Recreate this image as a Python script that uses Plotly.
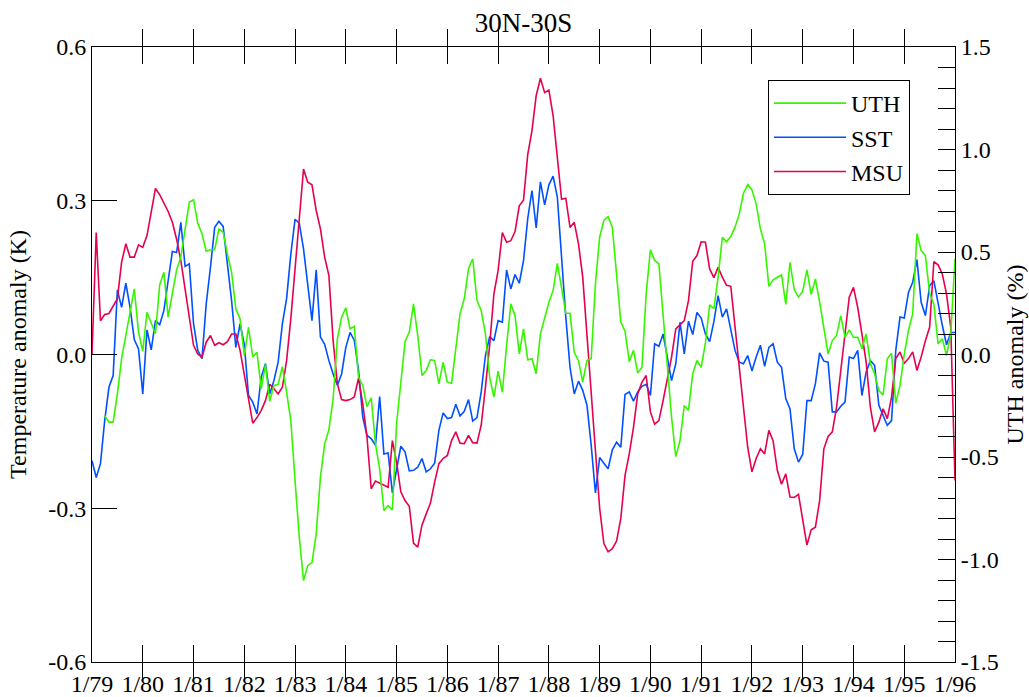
import plotly.graph_objects as go

# Monthly index 0 = Jan 1979 ... 204 = Jan 1996
months = list(range(205))

msu = [0.0, 0.238, 0.066, 0.078, 0.08, 0.095, 0.109, 0.18, 0.216, 0.19,
       0.19, 0.214, 0.209, 0.232, 0.275, 0.324, 0.312, 0.296, 0.279, 0.258,
       0.225, 0.183, 0.125, 0.066, 0.018, 0.001, -0.005, 0.024, 0.037, 0.018,
       0.023, 0.019, 0.025, 0.04, 0.04, 0.008, -0.038, -0.083, -0.134, -0.123,
       -0.109, -0.09, -0.058, -0.067, -0.077, -0.064, -0.012, 0.07, 0.17, 0.27,
       0.362, 0.336, 0.331, 0.281, 0.245, 0.19, 0.154, 0.027, -0.057, -0.088,
       -0.09, -0.088, -0.083, -0.046, -0.096, -0.161, -0.262, -0.247, -0.251, -0.255,
       -0.259, -0.168, -0.21, -0.268, -0.285, -0.296, -0.368, -0.376, -0.333, -0.311,
       -0.29, -0.249, -0.213, -0.203, -0.197, -0.168, -0.151, -0.173, -0.174, -0.158,
       -0.172, -0.173, -0.138, -0.064, 0.018, 0.118, 0.164, 0.238, 0.219, 0.222,
       0.24, 0.29, 0.301, 0.39, 0.437, 0.505, 0.539, 0.511, 0.516, 0.466,
       0.378, 0.303, 0.305, 0.248, 0.258, 0.216, 0.151, 0.04, -0.08, -0.2,
       -0.3, -0.369, -0.385, -0.379, -0.364, -0.32, -0.236, -0.194, -0.142, -0.077,
       -0.054, -0.041, -0.112, -0.136, -0.129, -0.09, -0.051, -0.005, 0.05, 0.058,
       0.066, 0.105, 0.182, 0.193, 0.22, 0.219, 0.167, 0.15, 0.17, 0.151,
       0.135, 0.133, 0.05, -0.02, -0.103, -0.181, -0.229, -0.203, -0.184, -0.194,
       -0.148, -0.168, -0.226, -0.253, -0.233, -0.278, -0.279, -0.273, -0.324, -0.372,
       -0.342, -0.337, -0.285, -0.184, -0.16, -0.151, -0.103, -0.034, 0.04, 0.112,
       0.131, 0.092, 0.04, -0.015, -0.103, -0.151, -0.132, -0.106, -0.125, -0.083,
       -0.008, 0.005, -0.017, -0.008, 0.005, -0.031, -0.005, 0.027, 0.053, 0.181,
       0.175, 0.157, 0.118, 0.053, -0.246]

sst = [-0.207, -0.24, -0.213, -0.129, -0.064, -0.041, 0.126, 0.092, 0.139, 0.092,
       0.029, 0.011, -0.077, 0.048, 0.009, 0.066, 0.058, 0.086, 0.144, 0.201,
       0.199, 0.258, 0.172, 0.177, 0.06, 0.008, -0.008, 0.099, 0.17, 0.248,
       0.26, 0.25, 0.177, 0.105, 0.014, 0.06, 0.02, -0.08, -0.093, -0.116,
       -0.044, -0.018, -0.077, -0.051, -0.015, 0.06, 0.109, 0.196, 0.264, 0.256,
       0.206, 0.131, 0.066, 0.165, 0.034, 0.02, -0.012, -0.038, -0.06, -0.038,
       0.014, 0.043, 0.028, -0.031, -0.122, -0.158, -0.164, -0.177, -0.082, -0.194,
       -0.192, -0.27, -0.226, -0.179, -0.19, -0.227, -0.226, -0.22, -0.203, -0.229,
       -0.223, -0.212, -0.148, -0.114, -0.125, -0.123, -0.097, -0.12, -0.111, -0.088,
       -0.13, -0.123, -0.073, -0.002, 0.035, 0.027, 0.066, 0.063, 0.165, 0.128,
       0.156, 0.139, 0.183, 0.265, 0.32, 0.247, 0.337, 0.292, 0.331, 0.348,
       0.307, 0.183, 0.073, -0.025, -0.077, -0.052, -0.07, -0.099, -0.177, -0.27,
       -0.201, -0.212, -0.223, -0.186, -0.171, -0.181, -0.078, -0.073, -0.091, -0.073,
       -0.062, -0.058, -0.08, 0.021, 0.016, 0.04, -0.005, -0.051, -0.018, 0.063,
       0.001, 0.065, 0.039, 0.082, 0.071, 0.04, 0.025, 0.064, 0.115, 0.073,
       0.089, 0.047, 0.008, -0.015, -0.018, -0.002, -0.032, -0.005, 0.018, -0.023,
       0.014, 0.021, -0.015, -0.025, -0.086, -0.106, -0.184, -0.21, -0.195, -0.09,
       -0.09, -0.057, 0.003, -0.013, -0.015, -0.112, -0.112, -0.101, -0.093, -0.005,
       -0.008, 0.008, -0.08, -0.034, -0.012, -0.021, -0.099, -0.119, -0.138, -0.129,
       0.008, 0.073, 0.071, 0.121, 0.141, 0.185, 0.102, 0.076, 0.134, 0.144,
       0.099, 0.057, 0.019, 0.043, 0.043]

uth = [None, None, None, -0.298, -0.33, -0.33, -0.192, -0.02, 0.1, 0.215,
       0.32, 0.109, 0.016, 0.206, 0.158, 0.101, 0.34, 0.401, 0.182, 0.296,
       0.413, 0.475, 0.605, 0.743, 0.755, 0.64, 0.589, 0.504, 0.511, 0.511,
       0.613, 0.597, 0.491, 0.401, 0.223, 0.174, -0.005, 0.133, -0.012, 0.011,
       -0.167, -0.049, -0.228, -0.151, -0.146, -0.059, -0.184, -0.322, -0.615, -0.891,
       -1.102, -1.03, -1.015, -0.875, -0.598, -0.436, -0.367, -0.216, 0.075, 0.182,
       0.228, 0.125, 0.137, -0.11, -0.151, -0.254, -0.211, -0.436, -0.558, -0.761,
       -0.737, -0.758, -0.338, -0.127, 0.062, 0.109, 0.247, 0.093, -0.102, -0.078,
       -0.026, -0.029, -0.143, -0.038, -0.135, -0.14, 0.02, 0.199, 0.272, 0.418,
       0.467, 0.263, 0.215, 0.101, -0.11, -0.208, -0.081, -0.184, 0.044, 0.247,
       0.19, 0.003, 0.125, -0.026, -0.021, -0.094, 0.101, 0.182, 0.255, 0.312,
       0.445, 0.325, 0.201, 0.201, 0.011, -0.03, -0.135, -0.029, -0.021, 0.345,
       0.572, 0.654, 0.673, 0.621, 0.394, 0.158, 0.114, -0.035, 0.02, -0.091,
       -0.062, 0.296, 0.511, 0.459, 0.442, 0.182, -0.06, -0.306, -0.498, -0.42,
       -0.249, -0.273, -0.094, -0.029, -0.062, 0.055, 0.242, 0.223, 0.377, 0.572,
       0.55, 0.575, 0.621, 0.686, 0.787, 0.829, 0.803, 0.735, 0.613, 0.54,
       0.332, 0.364, 0.377, 0.389, 0.244, 0.45, 0.316, 0.28, 0.309, 0.413,
       0.293, 0.369, 0.255, 0.13, 0.003, 0.068, 0.093, 0.19, 0.084, 0.12,
       0.084, 0.084, 0.028, 0.101, -0.045, -0.094, -0.176, -0.197, -0.021, 0.006,
       -0.238, -0.151, 0.0, 0.117, 0.199, 0.589, 0.507, 0.483, 0.299, 0.247,
       0.052, 0.077, -0.005, 0.101, 0.467]

x_tick_vals = list(range(0, 205, 12))
x_tick_text = ["1/79", "1/80", "1/81", "1/82", "1/83", "1/84", "1/85", "1/86", "1/87",
               "1/88", "1/89", "1/90", "1/91", "1/92", "1/93", "1/94", "1/95", "1/96"]
left_tick_vals = [-0.6, -0.3, 0.0, 0.3, 0.6]
left_tick_text = ["-0.6", "-0.3", "0.0", "0.3", "0.6"]
right_tick_vals = [-1.5, -1.0, -0.5, 0.0, 0.5, 1.0, 1.5]
right_tick_text = ["-1.5", "-1.0", "-0.5", "0.0", "0.5", "1.0", "1.5"]

FONT = "Liberation Serif, Times New Roman, serif"
C_UTH = "#36f500"
C_SST = "#0050ff"
C_MSU = "#e6004f"

fig = go.Figure()
fig.add_trace(go.Scatter(x=months, y=uth, name="UTH", mode="lines",
                         line=dict(color=C_UTH, width=1.6), yaxis="y2",
                         connectgaps=False))
fig.add_trace(go.Scatter(x=months, y=sst, name="SST", mode="lines",
                         line=dict(color=C_SST, width=1.6), yaxis="y"))
fig.add_trace(go.Scatter(x=months, y=msu, name="MSU", mode="lines",
                         line=dict(color=C_MSU, width=1.6), yaxis="y"))

fig.update_layout(
    width=1029, height=697,
    margin=dict(l=92, r=74, t=47, b=35, autoexpand=False),
    paper_bgcolor="white", plot_bgcolor="white",
    font=dict(family=FONT, size=24, color="black"),
    title=dict(text="30N-30S", x=(92 + 955) / 2 / 1029, xanchor="center",
               y=1 - 23 / 697, yanchor="middle",
               font=dict(family=FONT, size=27, color="black")),
    showlegend=True,
    legend=dict(x=(768 - 92) / 863, y=(662 - 80) / 615, xanchor="left", yanchor="top",
                bgcolor="white", bordercolor="black", borderwidth=1,
                font=dict(family=FONT, size=24, color="black"),
                itemwidth=72, tracegroupgap=0),
    xaxis=dict(range=[0, 204], tickmode="array", tickvals=x_tick_vals, ticktext=x_tick_text,
               ticks="inside", ticklen=17, tickwidth=1, tickcolor="black",
               showline=True, linecolor="black", linewidth=1, mirror="allticks",
               showgrid=False, zeroline=False,
               tickfont=dict(family=FONT, size=24, color="black")),
    yaxis=dict(range=[-0.6, 0.6], tickmode="array", tickvals=left_tick_vals, ticktext=left_tick_text,
               ticks="inside", ticklen=25, tickwidth=1, tickcolor="black",
               showline=True, linecolor="black", linewidth=1,
               showgrid=False, zeroline=False,
               title=dict(text="Temperature anomaly (K)", standoff=14,
                          font=dict(family=FONT, size=24, color="black")),
               tickfont=dict(family=FONT, size=24, color="black")),
    yaxis2=dict(range=[-1.5, 1.5], overlaying="y", side="right",
                tickmode="array", tickvals=right_tick_vals, ticktext=right_tick_text,
                ticks="inside", ticklen=17, tickwidth=1, tickcolor="black",
                minor=dict(dtick=0.1, tick0=0, ticks="inside", ticklen=17, tickcolor="black", showgrid=False),
                showline=True, linecolor="black", linewidth=1,
                showgrid=False, zeroline=False,
                title=dict(text="UTH anomaly (%)", standoff=8,
                           font=dict(family=FONT, size=24, color="black")),
                tickfont=dict(family=FONT, size=24, color="black")),
)

fig.write_html("out.html")
